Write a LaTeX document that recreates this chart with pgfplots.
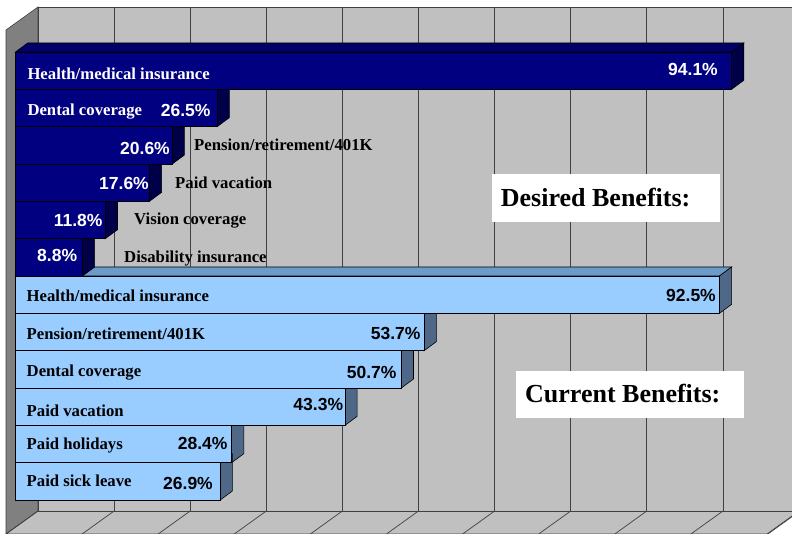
\documentclass[border=0pt]{standalone}
\usepackage{pgfplots}
\pgfplotsset{compat=1.18}
\usepackage{fontspec}
\setmainfont{Liberation Serif}
\newfontfamily\valfont{Liberation Sans}
\definecolor{navyF}{HTML}{000080}
\definecolor{navyT}{HTML}{000066}
\definecolor{navyS}{HTML}{000048}
\definecolor{blueF}{HTML}{99CCFF}
\definecolor{blueT}{HTML}{6D9BC9}
\definecolor{blueS}{HTML}{4F6888}
\definecolor{wall}{HTML}{C0C0C0}
\definecolor{sidew}{HTML}{808080}
\definecolor{gridc}{HTML}{404040}
\newcommand{\lab}[1]{\fontsize{16.7}{18}\selectfont\bfseries #1}
\newcommand{\val}[1]{\valfont\bfseries\fontsize{17.5}{19}\selectfont #1}
\begin{document}
\begin{tikzpicture}[x=1pt,y=1pt]
\useasboundingbox (0,0) rectangle (792,533);
\clip (0,0) rectangle (792,533);
\fill[white] (0,0) rectangle (792,533);
% walls and floor
\filldraw[fill=sidew, draw=gridc, line width=0.6] (6,503) -- (38,526) -- (38,22) -- (6,-1) -- cycle;
\filldraw[fill=wall, draw=gridc, line width=0.6] (38,22) -- (800,22) -- (768,-1) -- (6,-1) -- cycle;
\filldraw[fill=wall, draw=gridc, line width=0.6] (38,22) rectangle (800,526);
\foreach \k in {1,...,10} { \draw[gridc, line width=0.7] ({38+76.1*\k},22) -- ({38+76.1*\k},526); }
\foreach \k in {0,...,10} { \draw[gridc, line width=0.7] ({38+76.1*\k},22) -- ({6+76.1*\k},-1); }

\begin{axis}[at={(0,0)}, anchor=south west, scale only axis, width=792pt, height=533pt,
  xmin=-2.0368, xmax=102.037, ymin=0, ymax=533, hide axis, clip=false]
% top faces
\addplot[fill=navyT, draw=black, line width=0.6pt] coordinates {(0,481) (94.1,481) (95.7,490) (1.6,490)} -- cycle;
\addplot[fill=blueT, draw=black, line width=0.6pt] coordinates {(0,257) (92.5,257) (94.1,266) (1.6,266)} -- cycle;
% side faces: desired
\addplot[fill=navyS, draw=black, line width=0.6pt] coordinates {(94.1,443.67) (94.1,481) (95.7,490) (95.7,452.67)} -- cycle;
\addplot[fill=navyS, draw=black, line width=0.6pt] coordinates {(26.5,406.33) (26.5,443.67) (28.1,452.67) (28.1,415.33)} -- cycle;
\addplot[fill=navyS, draw=black, line width=0.6pt] coordinates {(20.6,369) (20.6,406.33) (22.2,415.33) (22.2,378)} -- cycle;
\addplot[fill=navyS, draw=black, line width=0.6pt] coordinates {(17.6,331.67) (17.6,369) (19.2,378) (19.2,340.67)} -- cycle;
\addplot[fill=navyS, draw=black, line width=0.6pt] coordinates {(11.8,294.33) (11.8,331.67) (13.4,340.67) (13.4,303.33)} -- cycle;
\addplot[fill=navyS, draw=black, line width=0.6pt] coordinates {(8.8,257) (8.8,294.33) (10.4,303.33) (10.4,266)} -- cycle;
% side faces: current
\addplot[fill=blueS, draw=black, line width=0.6pt] coordinates {(92.5,219.67) (92.5,257) (94.1,266) (94.1,228.67)} -- cycle;
\addplot[fill=blueS, draw=black, line width=0.6pt] coordinates {(53.7,182.33) (53.7,219.67) (55.3,228.67) (55.3,191.33)} -- cycle;
\addplot[fill=blueS, draw=black, line width=0.6pt] coordinates {(50.7,145) (50.7,182.33) (52.3,191.33) (52.3,154)} -- cycle;
\addplot[fill=blueS, draw=black, line width=0.6pt] coordinates {(43.3,107.67) (43.3,145) (44.9,154) (44.9,116.67)} -- cycle;
\addplot[fill=blueS, draw=black, line width=0.6pt] coordinates {(28.4,70.33) (28.4,107.67) (30,116.67) (30,79.33)} -- cycle;
\addplot[fill=blueS, draw=black, line width=0.6pt] coordinates {(26.9,33) (26.9,70.33) (28.5,79.33) (28.5,42)} -- cycle;
% front faces
\addplot[xbar, bar shift=0pt, bar width=37.333, fill=navyF, draw=black, line width=0.6pt]
  coordinates {(94.1,462.33) (26.5,425) (20.6,387.67) (17.6,350.33) (11.8,313) (8.8,275.67)};
\addplot[xbar, bar shift=0pt, bar width=37.333, fill=blueF, draw=black, line width=0.6pt]
  coordinates {(92.5,238.33) (53.7,201) (50.7,163.67) (43.3,126.33) (28.4,89) (26.9,51.67)};
\end{axis}

% category labels
\begin{scope}[every node/.style={anchor=base west, inner sep=0}]
\node[text=white] at (27.3,453.7) {\lab{Health/medical insurance}};
\node[text=white] at (27.3,417) {\lab{Dental coverage}};
\node at (194,382) {\lab{Pension/retirement/401K}};
\node at (175,344.7) {\lab{Paid vacation}};
\node at (134,308) {\lab{Vision coverage}};
\node at (124,270.5) {\lab{Disability insurance}};
\node at (26.5,231.3) {\lab{Health/medical insurance}};
\node at (26.5,193) {\lab{Pension/retirement/401K}};
\node at (26.5,157) {\lab{Dental coverage}};
\node at (26.5,117) {\lab{Paid vacation}};
\node at (26.5,83.7) {\lab{Paid holidays}};
\node at (26.5,46.3) {\lab{Paid sick leave}};
\end{scope}
% value labels
\begin{scope}[every node/.style={anchor=base east, inner sep=0}]
\node[text=white] at (718,457) {\val{94.1\%}};
\node[text=white] at (210.7,416.3) {\val{26.5\%}};
\node[text=white] at (170,378) {\val{20.6\%}};
\node[text=white] at (149,343) {\val{17.6\%}};
\node[text=white] at (102.7,306.3) {\val{11.8\%}};
\node[text=white] at (77.3,271.3) {\val{8.8\%}};
\node at (716,231) {\val{92.5\%}};
\node at (420.7,193) {\val{53.7\%}};
\node at (396.7,154.7) {\val{50.7\%}};
\node at (343.3,123) {\val{43.3\%}};
\node at (227.7,83.7) {\val{28.4\%}};
\node at (213,43.7) {\val{26.9\%}};
\end{scope}
% boxes
\fill[white] (492.3,311.3) rectangle (720,359);
\node[anchor=base west, inner sep=0] at (500.7,326.3) {\fontsize{26}{30}\selectfont\bfseries Desired Benefits:};
\fill[white] (516,114.7) rectangle (744,162);
\node[anchor=base west, inner sep=0] at (525,130.7) {\fontsize{26}{30}\selectfont\bfseries Current Benefits:};
\end{tikzpicture}
\end{document}
